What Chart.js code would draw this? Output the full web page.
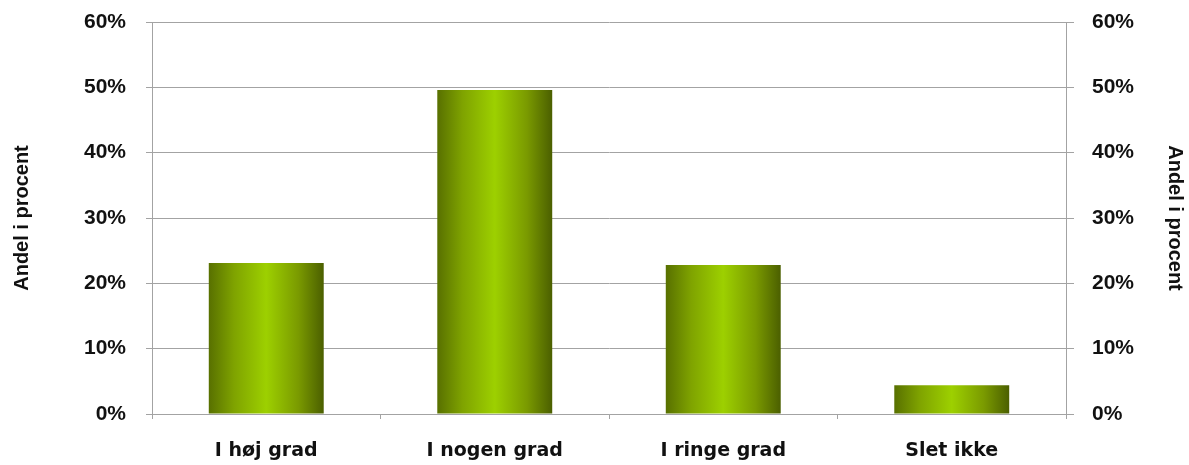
<!DOCTYPE html>
<html lang="da">
<head>
<meta charset="utf-8">
<title>Andel i procent</title>
<script src="https://cdn.jsdelivr.net/npm/chart.js@4/dist/chart.umd.min.js"></script>
<style>
  html, body { margin: 0; padding: 0; background: #fff; }
  #graf { display: block; }
</style>
</head>
<body>
<canvas id="graf" width="1189" height="465"></canvas>
<script>
/* Søjlediagram: andel i procent pr. svarkategori, akse i begge sider. */

const kategorier = ["I høj grad", "I nogen grad", "I ringe grad", "Slet ikke"];
const andele = [23.1, 49.6, 22.8, 4.4];
const yTicks = [0, 10, 20, 30, 40, 50, 60];

const GRAA = "#a3a3a3";
const SOEJLE_PCT = 0.503;

// Vandret gradient pr. søjle: mørk oliven i kanterne, lysegrøn i midten
function soejleFarve(c) {
  const chart = c.chart;
  if (!chart.chartArea || !chart.scales.x) return "#8fbf00";
  const x = chart.scales.x;
  const midt = x.getPixelForValue(c.dataIndex);
  const b = (x.width / kategorier.length) * SOEJLE_PCT;
  const g = chart.ctx.createLinearGradient(midt - b / 2, 0, midt + b / 2, 0);
  g.addColorStop(0, "#587000");
  g.addColorStop(0.22, "#7fa300");
  g.addColorStop(0.5, "#9dd000");
  g.addColorStop(0.78, "#7a9a00");
  g.addColorStop(1, "#4b5f00");
  return g;
}

const tickFont = { family: "'Liberation Sans', Arial, sans-serif", size: 21, weight: "bold" };
const titelFont = { family: "'Liberation Sans', Arial, sans-serif", size: 20, weight: "bold" };
const kategoriFont = { family: "'DejaVu Sans', Verdana, sans-serif", size: 19, weight: "bold" };

const yAkse = (side) => ({
  type: "linear",
  position: side,
  min: 0,
  max: 60,
  afterBuildTicks: (s) => { s.ticks = yTicks.map(v => ({ value: v })); },
  afterFit: (s) => {
    s.width = side === "left" ? 152 : 123;
    // plotområdets top styres af layout.padding alene
    s.paddingTop = 0;
    s.paddingBottom = 0;
  },
  border: { display: true, color: GRAA, width: 1 },
  grid: {
    display: true,
    drawOnChartArea: side === "left",
    color: GRAA,
    lineWidth: 1,
    tickLength: side === "left" ? 6 : 8,
  },
  ticks: {
    color: "#111",
    font: tickFont,
    padding: side === "left" ? 20 : 18,
    callback: (v) => v + "%",
  },
  title: {
    display: true,
    text: "Andel i procent",
    color: "#111",
    font: titelFont,
    padding: { top: side === "left" ? 10 : 2, bottom: 0 },
  },
});

new Chart(document.getElementById("graf"), {
  type: "bar",
  data: {
    labels: kategorier,
    datasets: [{
      label: "Andel i procent",
      data: andele,
      yAxisID: "y",
      backgroundColor: soejleFarve,
      borderWidth: 0,
      categoryPercentage: 1,
      barPercentage: SOEJLE_PCT,
    }],
  },
  options: {
    responsive: false,
    animation: false,
    devicePixelRatio: 1,
    layout: { padding: { top: 22, left: 0, right: 0, bottom: 0 } },
    plugins: { legend: { display: false }, tooltip: { enabled: false } },
    scales: {
      x: {
        afterFit: (s) => { s.height = 51; },
        border: { display: true, color: GRAA, width: 1 },
        grid: { display: true, offset: true, drawOnChartArea: false, color: GRAA, tickLength: 5 },
        ticks: { color: "#111", font: kategoriFont, padding: 21 },
      },
      y: yAkse("left"),
      y2: yAkse("right"),
    },
  },
});
</script>
</body>
</html>
